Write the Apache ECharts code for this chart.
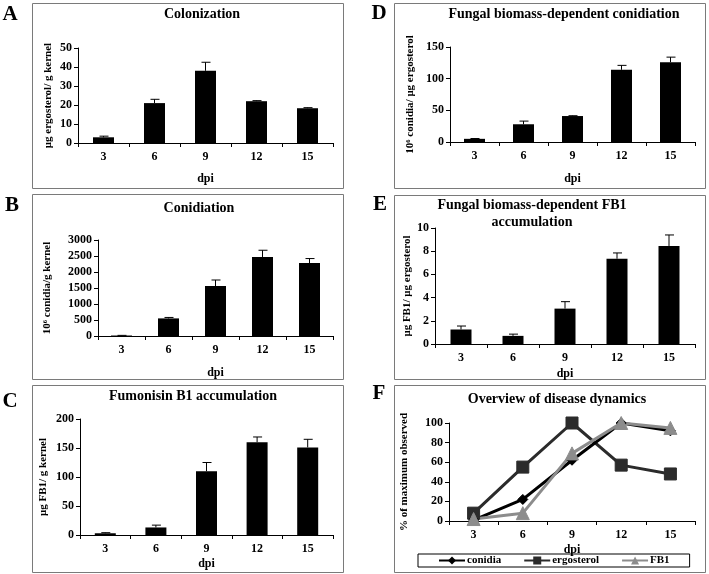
<!DOCTYPE html>
<html>
<head>
<meta charset="utf-8">
<script src="https://cdn.jsdelivr.net/npm/echarts@6/dist/echarts.min.js"></script>
<style>
  html, body { margin: 0; padding: 0; background: #fff; }
  #chart { width: 709px; height: 574px; }
</style>
</head>
<body>
<div id="chart"></div>
<script>
// days post inoculation
const days = ['3', '6', '9', '12', '15']

// A: colonization (ug ergosterol / g kernel)
const colonization = [3, 21, 38, 22, 18.3]
const colonizationSd = [0.6, 2, 4.5, 0.3, 0.3]
// B: conidiation (10^6 conidia / g kernel)
const conidiation = [15, 550, 1560, 2470, 2280]
const conidiationSd = [5, 30, 190, 210, 140]
// C: fumonisin B1 (ug FB1 / g kernel)
const fumonisin = [3, 13, 110, 160, 151]
const fumonisinSd = [1, 4, 15, 9, 14]
// D: conidia per ug ergosterol
const conidiaPerErg = [5, 28, 41, 114, 126]
const conidiaPerErgSd = [0.5, 5, 0.5, 7, 8]
// E: FB1 per ug ergosterol
const fb1PerErg = [1.25, 0.7, 3.05, 7.35, 8.45]
const fb1PerErgSd = [0.3, 0.15, 0.6, 0.5, 0.95]
// F: % of maximum observed
const pctConidia = [1, 22, 62, 100, 92]
const pctErgosterol = [8, 55, 100, 57, 48]
const pctFb1 = [2, 8, 69, 100, 95]

const FONT = '"Liberation Serif", "Times New Roman", serif'

const panels = [
  { grid: { left: 78, top: 48, width: 255, height: 95 }, max: 50, interval: 10, yName: 'μg ergosterol/ g kernel', yGap: 24, xGap: 30, values: colonization, sd: colonizationSd },
  { grid: { left: 98, top: 240, width: 235, height: 96 }, max: 3000, interval: 500, yName: '10⁶ conidia/g kernel', yGap: 45, xGap: 31, values: conidiation, sd: conidiationSd },
  { grid: { left: 80, top: 419, width: 253, height: 116 }, max: 200, interval: 50, yName: 'μg FB1/ g kernel', yGap: 31, xGap: 23, values: fumonisin, sd: fumonisinSd },
  { grid: { left: 450, top: 47, width: 245, height: 95 }, max: 150, interval: 50, yName: '10⁶ conidia/ μg ergosterol', yGap: 34, xGap: 31, values: conidiaPerErg, sd: conidiaPerErgSd },
  { grid: { left: 435, top: 228, width: 260, height: 116 }, max: 10, interval: 2, yName: 'μg FB1/ μg ergosterol', yGap: 22, xGap: 24, values: fb1PerErg, sd: fb1PerErgSd },
  { grid: { left: 449, top: 423, width: 246, height: 98 }, max: 100, interval: 20, yName: '% of maximum observed', yGap: 39, xGap: 23 }
]

const boxes = [
  [32, 3, 311, 185], [32, 194, 311, 185], [32, 385, 311, 187],
  [394, 3, 311, 185], [394, 195, 311, 184], [394, 385, 311, 187]
]
const letters = [['A', 10, 15], ['B', 12, 206], ['C', 10, 402], ['D', 379, 14], ['E', 380, 205], ['F', 379, 394]]
const titles = [
  ['Colonization', 202, 14], ['Conidiation', 199, 208], ['Fumonisin B1 accumulation', 193, 396],
  ['Fungal biomass-dependent conidiation', 564, 14], ['Fungal biomass-dependent FB1', 532, 205],
  ['accumulation', 532, 222], ['Overview of disease dynamics', 557, 399]
]

const chart = echarts.init(document.getElementById('chart'))

const textBase = { color: '#000', fontFamily: FONT, fontWeight: 'bold', fontSize: 11 }

const grids = panels.map(p => p.grid)
const xAxes = panels.map((p, i) => ({
  type: 'category',
  gridIndex: i,
  data: days,
  name: 'dpi',
  nameLocation: 'middle',
  nameGap: p.xGap,
  nameTextStyle: Object.assign({}, textBase, { fontSize: 12 }),
  axisLine: { lineStyle: { color: '#000', width: 1 } },
  axisTick: { show: true, length: 4, lineStyle: { color: '#000' } },
  axisLabel: Object.assign({}, textBase, { fontSize: 12, margin: 8 })
}))
const yAxes = panels.map((p, i) => ({
  type: 'value',
  gridIndex: i,
  min: 0,
  max: p.max,
  interval: p.interval,
  name: p.yName,
  nameLocation: 'middle',
  nameGap: p.yGap,
  nameTextStyle: Object.assign({}, textBase, { fontSize: 11 }),
  axisLine: { show: true, lineStyle: { color: '#000', width: 1 } },
  axisTick: { show: true, length: 4, lineStyle: { color: '#000' } },
  axisLabel: Object.assign({}, textBase, { fontSize: 12, margin: 6, formatter: v => String(v) }),
  splitLine: { show: false }
}))

const series = []
panels.forEach((p, i) => {
  if (!p.values) return
  series.push({
    type: 'bar',
    xAxisIndex: i,
    yAxisIndex: i,
    barWidth: 21,
    itemStyle: { color: '#000' },
    data: p.values
  })
  // upper error bars
  series.push({
    type: 'custom',
    xAxisIndex: i,
    yAxisIndex: i,
    silent: true,
    z: 3,
    data: p.values.map((v, k) => [k, v, v + p.sd[k]]),
    renderItem: function(params, api) {
      const base = api.coord([api.value(0), api.value(1)])
      const top = api.coord([api.value(0), api.value(2)])
      const style = { stroke: '#000', lineWidth: 1 }
      return {
        type: 'group',
        children: [
          { type: 'line', shape: { x1: base[0], y1: base[1], x2: top[0], y2: top[1] }, style: style },
          { type: 'line', shape: { x1: top[0] - 4, y1: top[1], x2: top[0] + 5, y2: top[1] }, style: style }
        ]
      }
    }
  })
})

// panel F lines
const lineDefs = [
  { name: 'ergosterol', data: pctErgosterol, color: '#2b2b2b', symbol: 'rect', size: 12 },
  { name: 'conidia', data: pctConidia, color: '#000', symbol: 'diamond', size: 10 },
  { name: 'FB1', data: pctFb1, color: '#8c8c8c', symbol: 'triangle', size: 13 }
]
lineDefs.forEach(d => {
  series.push({
    name: d.name,
    type: 'line',
    xAxisIndex: 5,
    yAxisIndex: 5,
    symbol: d.symbol,
    symbolSize: d.size,
    lineStyle: { color: d.color, width: 3 },
    itemStyle: { color: d.color, borderColor: d.color },
    data: d.data
  })
})

const graphic = []
boxes.forEach(b => {
  graphic.push({ type: 'rect', silent: true, z: -1, shape: { x: b[0] + 0.5, y: b[1] + 0.5, width: b[2], height: b[3] }, style: { fill: 'none', stroke: '#7a7a7a', lineWidth: 1 } })
})
letters.forEach(l => {
  graphic.push({ type: 'text', x: l[1], y: l[2], style: { text: l[0], fill: '#000', font: 'bold 21px ' + FONT, textAlign: 'center', textVerticalAlign: 'middle' } })
})
titles.forEach(t => {
  graphic.push({ type: 'text', x: t[1], y: t[2], style: { text: t[0], fill: '#000', font: 'bold 14px ' + FONT, textAlign: 'center', textVerticalAlign: 'middle' } })
})

chart.setOption({
  animation: false,
  backgroundColor: '#fff',
  grid: grids,
  xAxis: xAxes,
  yAxis: yAxes,
  legend: {
    data: ['conidia', 'ergosterol', 'FB1'],
    left: 418,
    top: 554,
    padding: [1, 20, 1, 20],
    itemGap: 22,
    itemWidth: 26,
    itemHeight: 10,
    borderColor: '#000',
    borderWidth: 1,
    borderRadius: 0,
    textStyle: Object.assign({}, textBase, { fontSize: 11, padding: [0, 0, 0, -3] })
  },
  graphic: graphic,
  series: series
})
</script>
</body>
</html>
